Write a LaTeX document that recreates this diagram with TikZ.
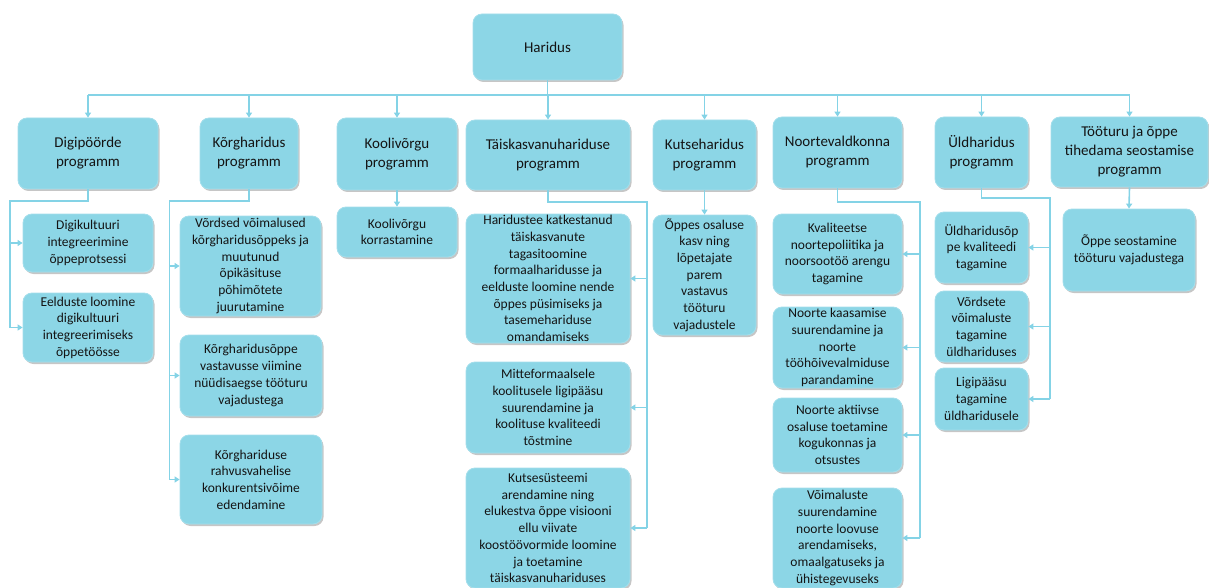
\documentclass[tikz,border=0pt]{standalone}
\usepackage{fontspec}
\setmainfont{Carlito}
\usepackage{xcolor}
\usepackage{tikz}
\usetikzlibrary{arrows.meta,shadows}

\definecolor{boxcyan}{HTML}{8CD6E6}
\definecolor{linecyan}{HTML}{84D3E6}
\definecolor{inkgray}{HTML}{141414}

\begin{document}
\begin{tikzpicture}[x=1pt, y=-1pt, >={Triangle[length=5pt,width=6pt]},
    box/.style={rounded corners=9pt, fill=boxcyan, draw=boxcyan!80!white, line width=0.8pt,
        text=inkgray, align=center, inner sep=0pt,
        drop shadow={shadow xshift=1.5pt, shadow yshift=-2pt, opacity=0.45, fill=gray}},
    prog/.style={box, font=\fontsize{15}{19}\selectfont},
    task/.style={box, font=\fontsize{13.5}{16.7}\selectfont},
    link/.style={draw=linecyan, line width=1.6pt}]
    \useasboundingbox (0,0) rectangle (1209,588);

    % Top node
    \node[prog, minimum width=149pt, minimum height=66pt] (har) at (547.5,47) {Haridus};

    % Programmes
    \node[prog, minimum width=140pt, minimum height=71pt] (digi) at (88,153.5) {Digipöörde\\programm};
    \node[prog, minimum width=98pt, minimum height=71pt] (korg) at (249,153.5) {Kõrgharidus\\programm};
    \node[prog, minimum width=120pt, minimum height=72pt] (kool) at (397,154) {Koolivõrgu\\programm};
    \node[prog, minimum width=164pt, minimum height=70pt] (taisk) at (548,155) {Täiskasvanuhariduse\\programm};
    \node[prog, minimum width=103pt, minimum height=70pt] (kutse) at (704.5,155) {Kutseharidus\\programm};
    \node[prog, minimum width=129pt, minimum height=71pt] (noor) at (837.5,152.5) {Noortevaldkonna\\programm};
    \node[prog, minimum width=93pt, minimum height=71pt] (uld) at (981.5,152.5) {Üldharidus\\programm};
    \node[prog, minimum width=157pt, minimum height=70pt] (too) at (1129.5,152) {Tööturu ja õppe\\tihedama seostamise\\programm};

    % Digipöörde tasks
    \node[task, minimum width=130pt, minimum height=58pt] (digiA) at (88,243) {Digikultuuri\\integreerimine\\õppeprotsessi};
    \node[task, minimum width=130pt, minimum height=69pt] (digiB) at (88,327.5) {Eelduste loomine\\digikultuuri\\integreerimiseks\\õppetöösse};

    % Kõrgharidus tasks
    \node[task, minimum width=141pt, minimum height=100pt] (korgA) at (250.5,266) {Võrdsed võimalused\\kõrgharidusõppeks ja\\muutunud\\õpikäsituse\\põhimõtete\\juurutamine};
    \node[task, minimum width=142pt, minimum height=81pt] (korgB) at (251,375.5) {Kõrgharidusõppe\\vastavusse viimine\\nüüdisaegse tööturu\\vajadustega};
    \node[task, minimum width=142pt, minimum height=89pt] (korgC) at (251,479.5) {Kõrghariduse\\rahvusvahelise\\konkurentsivõime\\edendamine};

    % Koolivõrgu task
    \node[task, minimum width=120pt, minimum height=50pt] (koolA) at (397,232) {Koolivõrgu\\korrastamine};

    % Täiskasvanuhariduse tasks
    \node[task, minimum width=164pt, minimum height=129pt] (taiskA) at (548,278.5) {Haridustee katkestanud\\täiskasvanute\\tagasitoomine\\formaalharidusse ja\\eelduste loomine nende\\õppes püsimiseks ja\\tasemehariduse\\omandamiseks};
    \node[task, minimum width=164pt, minimum height=91pt] (taiskB) at (548,407.5) {Mitteformaalsele\\koolitusele ligipääsu\\suurendamine ja\\koolituse kvaliteedi\\tõstmine};
    \node[task, minimum width=164pt, minimum height=120pt] (taiskC) at (548,528) {Kutsesüsteemi\\arendamine ning\\elukestva õppe visiooni\\ellu viivate\\koostöövormide loomine\\ja toetamine\\täiskasvanuhariduses};

    % Kutseharidus task
    \node[task, minimum width=103pt, minimum height=120pt] (kutseA) at (704.5,275) {Õppes osaluse\\kasv ning\\lõpetajate\\parem\\vastavus\\tööturu\\vajadustele};

    % Noortevaldkonna tasks
    \node[task, minimum width=129pt, minimum height=80pt] (noorA) at (837.5,254) {Kvaliteetse\\noortepoliitika ja\\noorsootöö arengu\\tagamine};
    \node[task, minimum width=129pt, minimum height=81pt] (noorB) at (837.5,347.5) {Noorte kaasamise\\suurendamine ja\\noorte\\tööhõivevalmiduse\\parandamine};
    \node[task, minimum width=129pt, minimum height=74pt] (noorC) at (837.5,435) {Noorte aktiivse\\osaluse toetamine\\kogukonnas ja\\otsustes};
    \node[task, minimum width=129pt, minimum height=100pt] (noorD) at (837.5,538) {Võimaluste\\suurendamine\\noorte loovuse\\arendamiseks,\\omaalgatuseks ja\\ühistegevuseks};

    % Üldharidus tasks
    \node[task, minimum width=93pt, minimum height=71pt] (uldA) at (981.5,247.5) {Üldharidusõp\\pe kvaliteedi\\tagamine};
    \node[task, minimum width=93pt, minimum height=71pt] (uldB) at (981.5,326.5) {Võrdsete\\võimaluste\\tagamine\\üldhariduses};
    \node[task, minimum width=93pt, minimum height=62pt] (uldC) at (981.5,399) {Ligipääsu\\tagamine\\üldharidusele};

    % Tööturu task
    \node[task, minimum width=132pt, minimum height=82pt] (tooA) at (1129,250) {Õppe seostamine\\tööturu vajadustega};

    % Bus under Haridus
    \coordinate (bus) at (547.5,95);
    \draw[link] (har.south) -- (bus);
    \draw[link] (bus -| digi) -- (bus -| too);
    \foreach \p in {digi,korg,kool,taisk,kutse,noor,uld,too}
        \draw[link,->] (bus -| \p) -- (\p.north);

    % Branches to the left
    \coordinate (digiR) at (10,201);
    \draw[link] (digi.south) |- (digiR) -- (digiR |- digiB);
    \foreach \c in {digiA,digiB}
        \draw[link,->] (digiR |- \c) -- (\c.west);

    \coordinate (korgR) at (169.5,201);
    \draw[link] (korg.south) |- (korgR) -- (korgR |- korgC);
    \foreach \c in {korgA,korgB,korgC}
        \draw[link,->] (korgR |- \c) -- (\c.west);

    % Branches to the right
    \coordinate (taiskR) at (647,202);
    \draw[link] (taisk.south) |- (taiskR) -- (taiskR |- taiskC);
    \foreach \c in {taiskA,taiskB,taiskC}
        \draw[link,->] (taiskR |- \c) -- (\c.east);

    \coordinate (noorR) at (920,202);
    \draw[link] (noor.south) |- (noorR) -- (noorR |- noorD);
    \foreach \c in {noorA,noorB,noorC,noorD}
        \draw[link,->] (noorR |- \c) -- (\c.east);

    \coordinate (uldR) at (1050,198);
    \draw[link] (uld.south) |- (uldR) -- (uldR |- uldC);
    \foreach \c in {uldA,uldB,uldC}
        \draw[link,->] (uldR |- \c) -- (\c.east);

    % Straight links
    \draw[link,->] (kool.south) -- (koolA.north);
    \draw[link,->] (kutse.south) -- (kutseA.north);
    \draw[link,->] (too.south) -- (tooA.north);
\end{tikzpicture}
\end{document}
